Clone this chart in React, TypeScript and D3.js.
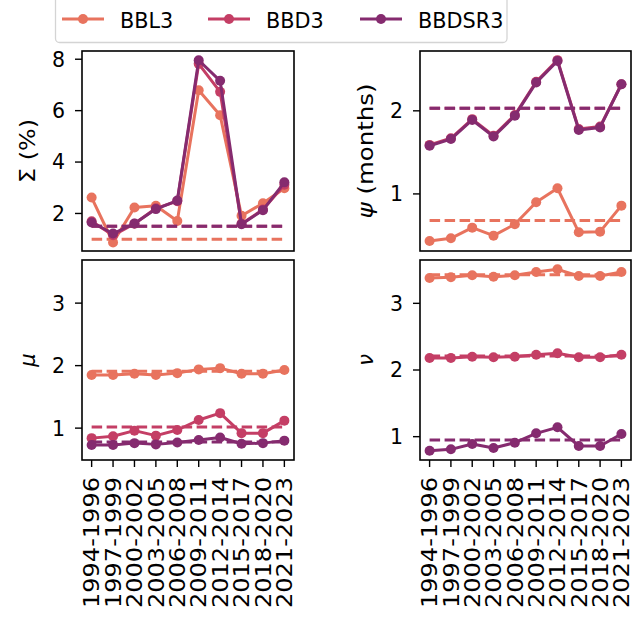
import React from "react";
import * as d3 from "d3";

const periods = ["1994-1996", "1997-1999", "2000-2002", "2003-2005", "2006-2008", "2009-2011", "2012-2014", "2015-2017", "2018-2020", "2021-2023"];
const seriesNames = ["BBL3", "BBD3", "BBDSR3"];
const colors = ["#e8735e", "#c43e65", "#852b6f"];

// Σ (%)
const sigmaBBL3 = [2.62, 0.87, 2.23, 2.3, 1.71, 6.79, 5.82, 1.91, 2.4, 2.98];
const sigmaBBD3 = [1.7, 1.15, 1.6, 2.2, 2.48, 7.82, 6.73, 1.6, 2.15, 3.12];
const sigmaBBDSR3 = [1.65, 1.22, 1.61, 2.17, 2.5, 7.96, 7.16, 1.58, 2.13, 3.21];
const sigmaMean = [1.0, 1.5, 1.5];

// ψ (months)
const psiBBL3 = [0.434, 0.466, 0.594, 0.498, 0.635, 0.9, 1.068, 0.538, 0.546, 0.859];
const psiBBD3 = [1.59, 1.67, 1.9, 1.7, 1.95, 2.35, 2.61, 1.78, 1.81, 2.32];
const psiBBDSR3 = [1.58, 1.66, 1.89, 1.69, 1.94, 2.34, 2.6, 1.77, 1.8, 2.32];
const psiMean = [0.68, 2.03, 2.03];

// μ
const muBBL3 = [1.85, 1.85, 1.87, 1.85, 1.88, 1.94, 1.96, 1.87, 1.87, 1.93];
const muBBD3 = [0.84, 0.87, 0.96, 0.88, 0.97, 1.13, 1.24, 0.92, 0.92, 1.12];
const muBBDSR3 = [0.73, 0.73, 0.76, 0.74, 0.77, 0.81, 0.85, 0.75, 0.76, 0.8];
const muMean = [1.91, 1.02, 0.78];

// ν
const nuBBL3 = [3.38, 3.39, 3.42, 3.4, 3.42, 3.47, 3.51, 3.41, 3.41, 3.47];
const nuBBD3 = [2.18, 2.18, 2.2, 2.19, 2.2, 2.23, 2.25, 2.19, 2.19, 2.23];
const nuBBDSR3 = [0.79, 0.81, 0.89, 0.83, 0.91, 1.05, 1.14, 0.86, 0.86, 1.04];
const nuMean = [3.43, 2.21, 0.95];

const FONT = "DejaVu Sans";
const LW = 3.0;
const MR = 5.0;

type PanelDef = {
  x0: number; x1: number; y0: number; y1: number;
  domain: [number, number];
  ticks: number[];
  data: number[][];
  means: number[];
  label: string;
  labelX: number;
  labelLen?: number;
  italic?: boolean;
  showX: boolean;
};

const panels: PanelDef[] = [
  { x0: 82, x1: 294, y0: 51, y1: 251, domain: [0.54, 8.32], ticks: [2, 4, 6, 8], data: [sigmaBBL3, sigmaBBD3, sigmaBBDSR3], means: sigmaMean, label: "Σ (%)", labelX: 27, labelLen: 64, showX: false },
  { x0: 420, x1: 631, y0: 51, y1: 251, domain: [0.313, 2.72], ticks: [1, 2], data: [psiBBL3, psiBBD3, psiBBDSR3], means: psiMean, label: "ψ (months)", labelX: 365, labelLen: 135, showX: false },
  { x0: 82, x1: 294, y0: 260, y1: 460, domain: [0.49, 3.69], ticks: [1, 2, 3], data: [muBBL3, muBBD3, muBBDSR3], means: muMean, label: "μ", labelX: 27, italic: true, showX: true },
  { x0: 420, x1: 631, y0: 260, y1: 460, domain: [0.65, 3.65], ticks: [1, 2, 3], data: [nuBBL3, nuBBD3, nuBBDSR3], means: nuMean, label: "ν", labelX: 365, italic: true, showX: true },
];

function Panel({ p }: { p: PanelDef }) {
  const x = d3.scaleLinear().domain([-0.45, periods.length - 1 + 0.45]).range([p.x0, p.x1]);
  const y = d3.scaleLinear().domain(p.domain).range([p.y1, p.y0]);
  const line = d3.line<number>().x((_, i) => x(i)).y((v) => y(v));
  const cy = (p.y0 + p.y1) / 2;
  return (
    <g>
      {p.data.map((arr, si) => (
        <g key={si}>
          <path d={line(arr) || ""} fill="none" stroke={colors[si]} strokeWidth={LW} strokeLinejoin="round" />
          {arr.map((v, i) => (
            <circle key={i} cx={x(i)} cy={y(v)} r={MR} fill={colors[si]} />
          ))}
          <line x1={x(0)} x2={x(periods.length - 1)} y1={y(p.means[si])} y2={y(p.means[si])} stroke={colors[si]} strokeWidth={LW} strokeDasharray="10.5,4.5" />
        </g>
      ))}
      <rect x={p.x0} y={p.y0} width={p.x1 - p.x0} height={p.y1 - p.y0} fill="none" stroke="#000" strokeWidth={1.6} />
      {p.ticks.map((t) => (
        <g key={t}>
          <line x1={p.x0 - 7} x2={p.x0} y1={y(t)} y2={y(t)} stroke="#000" strokeWidth={1.4} />
          <text x={p.x0 - 17} y={y(t)} dy="0.36em" textAnchor="end" fontSize={20.5} fontFamily={FONT}>{t}</text>
        </g>
      ))}
      {p.showX && periods.map((lab, i) => (
        <g key={lab}>
          <line x1={x(i)} x2={x(i)} y1={p.y1} y2={p.y1 + 7} stroke="#000" strokeWidth={1.4} />
          <text transform={`translate(${x(i)},477) rotate(-90)`} dy="0.37em" textAnchor="end" fontSize={21} fontFamily={FONT} textLength={131} lengthAdjust="spacingAndGlyphs">{lab}</text>
        </g>
      ))}
      <text transform={`translate(${p.labelX},${cy}) rotate(-90)`} dy="0.36em" textAnchor="middle" fontSize={21} fontFamily={FONT}
        {...(p.labelLen ? { textLength: p.labelLen, lengthAdjust: "spacingAndGlyphs" } : {})}>
        {p.label === "ψ (months)" ? (<><tspan fontStyle="italic">ψ</tspan> (months)</>) : p.italic ? <tspan fontStyle="italic">{p.label}</tspan> : p.label}
      </text>
    </g>
  );
}

const legendItems = [
  { lx: 62, tx: 120 },
  { lx: 208, tx: 266 },
  { lx: 360, tx: 418 },
];

export default function App() {
  return (
    <svg width={644} height={618} style={{ position: "absolute", left: 0, top: 0, background: "#fff" }}>
      <rect x={0} y={0} width={644} height={618} fill="#fff" />
      {panels.map((p, i) => <Panel key={i} p={p} />)}
      <rect x={55.5} y={-6} width={451.5} height={48.5} rx={4} fill="#fff" stroke="#d4d4d4" strokeWidth={1.3} />
      {seriesNames.map((name, i) => (
        <g key={name}>
          <line x1={legendItems[i].lx} x2={legendItems[i].lx + 42} y1={19} y2={19} stroke={colors[i]} strokeWidth={LW} />
          <circle cx={legendItems[i].lx + 21} cy={19} r={MR} fill={colors[i]} />
          <text x={legendItems[i].tx} y={27.5} fontSize={20.8} fontFamily={FONT}>{name}</text>
        </g>
      ))}
    </svg>
  );
}
